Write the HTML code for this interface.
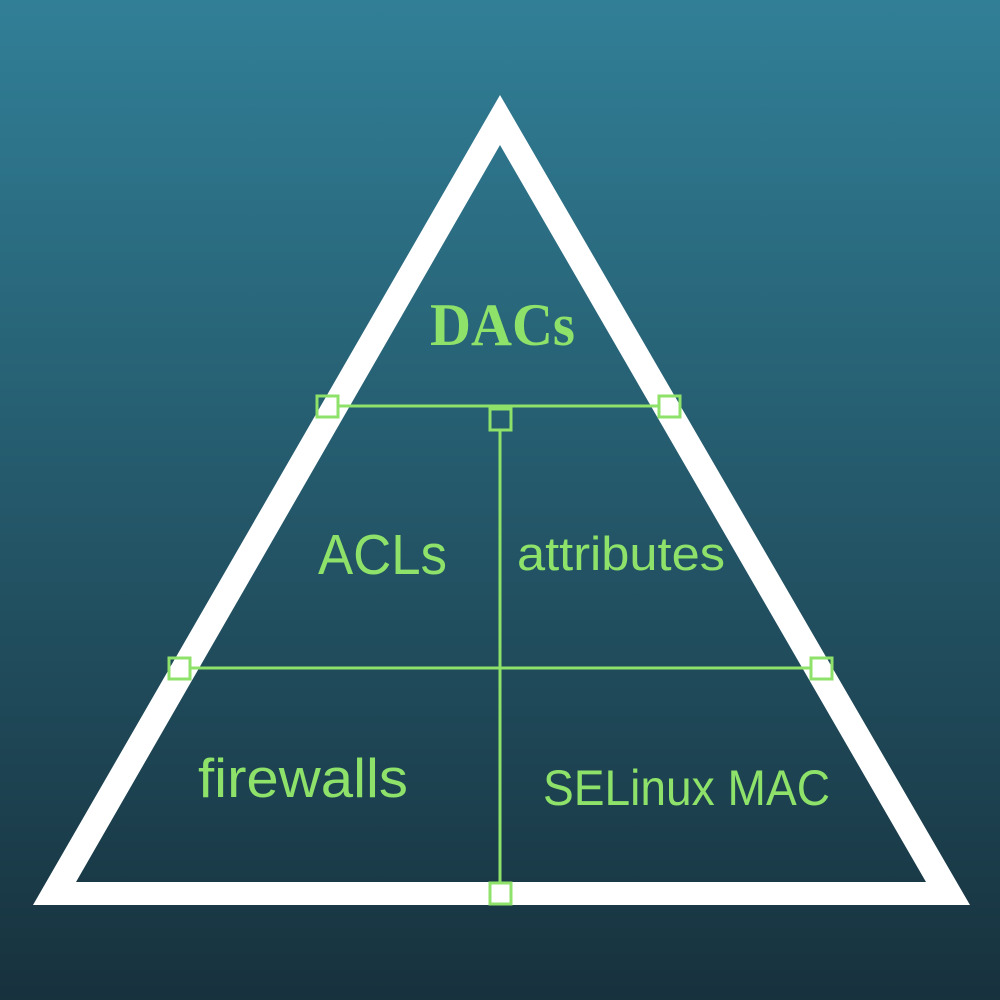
<!DOCTYPE html>
<html><head><style>html,body{margin:0;padding:0;width:1000px;height:1000px;overflow:hidden}</style></head>
<body>
<svg width="1000" height="1000" viewBox="0 0 1000 1000" xmlns="http://www.w3.org/2000/svg">
<defs><linearGradient id="g" x1="0" y1="0" x2="0" y2="1"><stop offset="0" stop-color="#317f97"/><stop offset="1" stop-color="#17313d"/></linearGradient></defs>
<rect width="1000" height="1000" fill="url(#g)"/>
<path fill="#fff" fill-rule="evenodd" d="M500 95 L970 905 L33 905 Z M500 145 L76 882 L926 882 Z"/>
<g stroke="#8ee26a" stroke-width="3" fill="none">
<line x1="338" y1="406" x2="659" y2="406"/>
<line x1="500" y1="430" x2="500" y2="883"/>
<line x1="191" y1="668" x2="811" y2="668"/>
<rect x="317" y="396" width="21" height="21"/>
<rect x="659" y="396" width="21" height="21"/>
<rect x="490" y="409" width="21" height="21"/>
<rect x="169" y="658" width="21" height="21"/>
<rect x="811" y="658" width="21" height="21"/>
<rect x="490" y="883" width="21" height="21"/>
</g>
<g fill="#8ee26a" font-family="Liberation Sans, sans-serif">
<text x="430" y="345" font-family="Liberation Serif, serif" font-weight="bold" font-size="60" textLength="145" lengthAdjust="spacingAndGlyphs">DACs</text>
<text x="318" y="574" font-size="57" textLength="129" lengthAdjust="spacingAndGlyphs">ACLs</text>
<text x="517" y="570" font-size="47" textLength="208" lengthAdjust="spacingAndGlyphs">attributes</text>
<text x="198" y="797" font-size="55" textLength="210" lengthAdjust="spacingAndGlyphs">firewalls</text>
<text x="543" y="805" font-size="50" textLength="287" lengthAdjust="spacingAndGlyphs">SELinux MAC</text>
</g>
</svg>
</body></html>
